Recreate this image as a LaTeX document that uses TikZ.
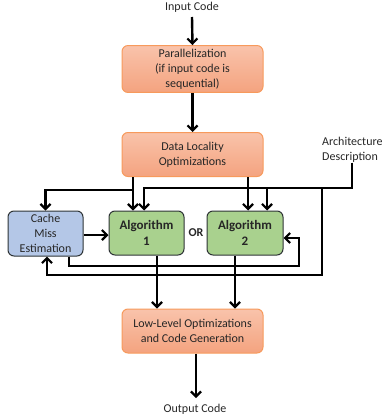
\documentclass[tikz,border=0pt]{standalone}
\usepackage{fontspec}
\setmainfont{Carlito}
\usepackage{tikz}
\usetikzlibrary{arrows.meta}
\definecolor{ortop}{HTML}{F9C3AB}
\definecolor{orbot}{HTML}{F4A37F}
\definecolor{orline}{HTML}{F79A5C}
\definecolor{bluefill}{HTML}{B4C7E7}
\definecolor{greenfill}{HTML}{A9D18E}
\definecolor{edge}{HTML}{2E3436}
\tikzset{
  stage/.style={draw=orline, line width=1pt, rounded corners=6pt, top color=ortop, bottom color=orbot,
    minimum width=141pt, minimum height=44pt, align=center, font=\fontsize{12}{15}\selectfont, text=black!85},
  est/.style={draw=edge, line width=1pt, rounded corners=6pt, fill=bluefill,
    minimum width=75pt, minimum height=45pt, align=center, font=\fontsize{12}{15}\selectfont, text=black!85, inner sep=1pt},
  algo/.style={draw=edge, line width=1pt, rounded corners=6pt, fill=greenfill,
    minimum width=75pt, minimum height=44pt, align=center, font=\fontsize{13}{16}\selectfont\bfseries, text=black!85},
  lab/.style={font=\fontsize{12}{15}\selectfont, text=black!85, inner sep=0pt},
  line/.style={draw=black, line width=2.4pt},
  arr/.style={line, -{Straight Barb[length=5pt,width=10pt,line width=2.2pt]}},
}
\begin{document}
\begin{tikzpicture}[x=1pt,y=-1pt]
  \useasboundingbox (0,0) rectangle (382,420);

  \node[lab] (in) at (192,7) {Input Code};
  \node[stage] (par) at (192.5,69) {Parallelization\\(if input code is\\sequential)};
  \node[stage] (dlo) at (192.5,154.5) {Data Locality\\Optimizations};
  \node[lab, anchor=north west, align=left] (arch) at (322,137) {Architecture\\Description};
  \node[est] (cme) at (45.5,233.5) {Cache\\Miss\\Estimation};
  \node[algo] (alg1) at (146.5,233) {Algorithm\\1};
  \node[lab, font=\fontsize{12}{15}\selectfont\bfseries] (or) at (196,233) {OR};
  \node[algo, minimum width=76pt] (alg2) at (245,233) {Algorithm\\2};
  \node[stage] (llo) at (192.5,331) {Low-Level Optimizations\\and Code Generation};
  \node[lab] (out) at (195,409) {Output Code};

  \coordinate (dsplit) at (133,190);
  \coordinate (abus) at (352,188);

  \draw[arr] (192,17) -- (par.north);
  \draw[arr] (par.south) -- (dlo.north);

  % data locality into the algorithms and the estimator
  \draw[arr] (dlo.south -| dsplit) -- (alg1.north -| dsplit);
  \draw[arr] (dsplit) -| (cme.north);
  \draw[arr] (dlo.south -| 248,0) -- (alg2.north -| 248,0);

  % architecture description
  \draw[arr] (arch.south -| abus) -- (abus) -- (144,188) -- (alg1.north -| 144,0);
  \draw[arr] (267,188) -- (alg2.north -| 267,0);
  \draw[arr] (322,188) |- (47,275) -- (cme.south -| 47,0);

  % estimator feedback
  \draw[arr] (cme.east |- 0,235) -- (alg1.west |- 0,235);
  \draw[arr] (cme.south -| 69,0) |- (299,266) |- (alg2.east |- 0,238);

  \draw[arr] (alg1.south -| 157,0) -- (llo.north -| 157,0);
  \draw[arr] (alg2.south -| 235,0) -- (llo.north -| 235,0);
  \draw[arr] (llo.south -| 196,0) -- (196,398);
\end{tikzpicture}
\end{document}
